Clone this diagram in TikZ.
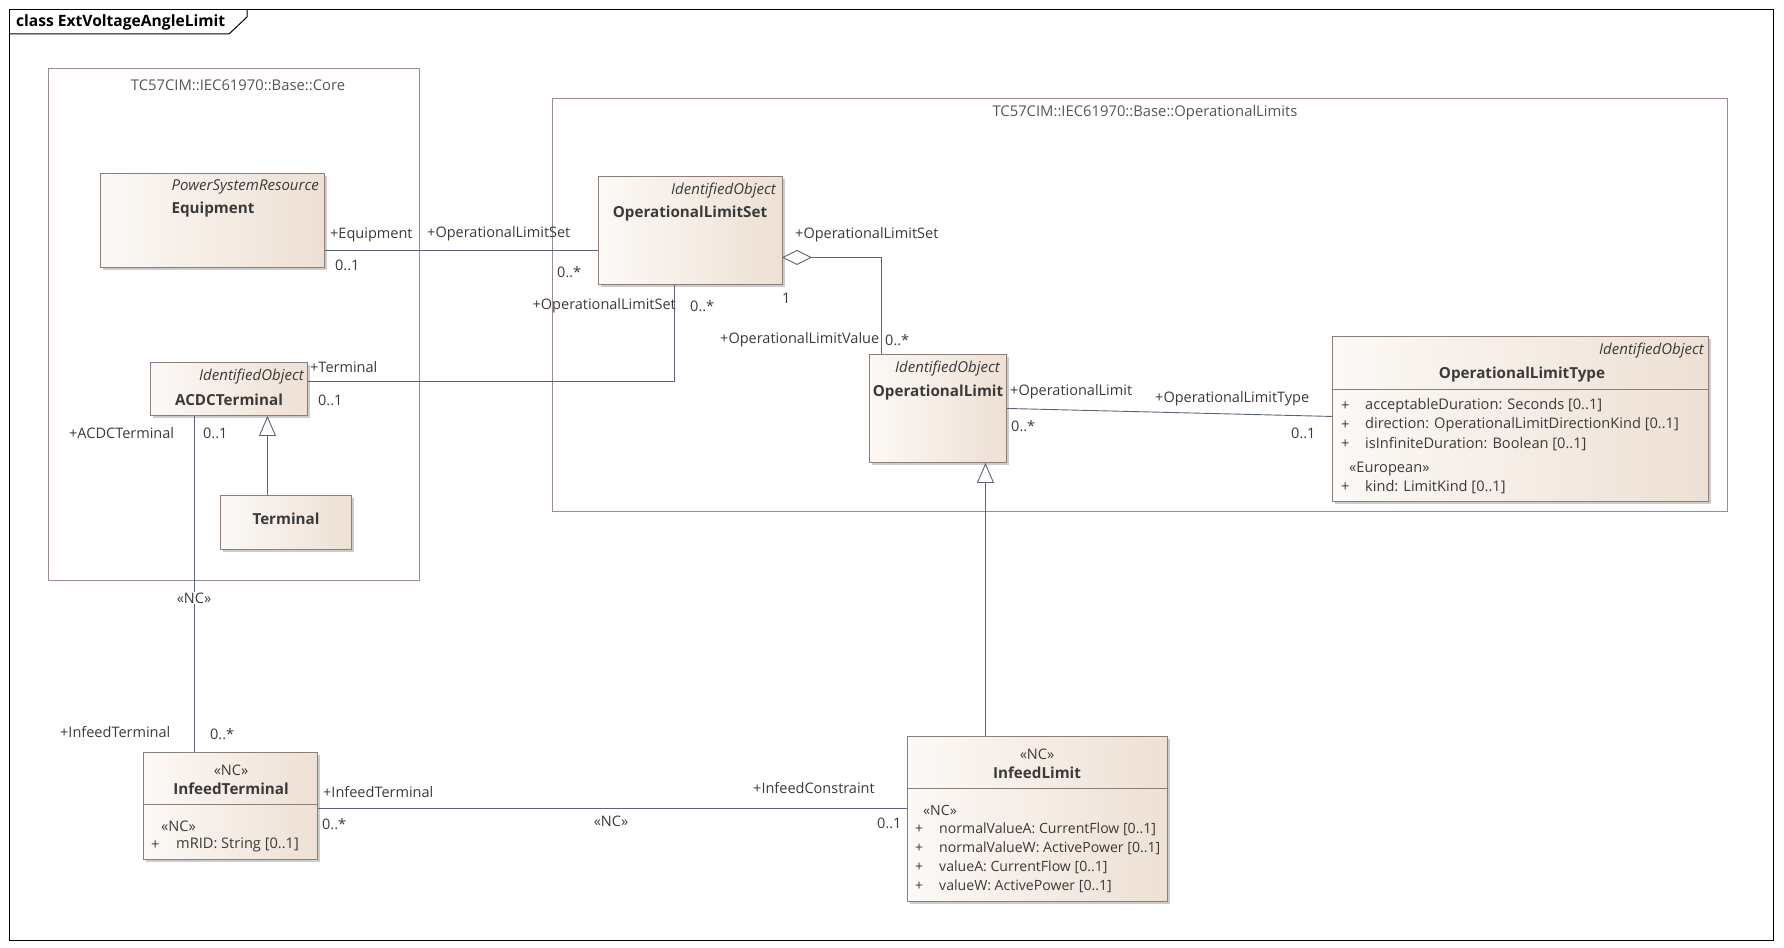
\documentclass[tikz,border=0pt]{standalone}
\usepackage{fontspec}
\setmainfont{Open Sans}
\usetikzlibrary{shadows,calc,arrows.meta}
\definecolor{boxL}{HTML}{FCF9F6}
\definecolor{boxR}{HTML}{EEE0D4}
\definecolor{boxB}{HTML}{8E7E7A}
\definecolor{pkgB}{HTML}{9C8C8C}
\definecolor{lineC}{HTML}{5A6478}
\definecolor{txt}{HTML}{3A3A3A}
\definecolor{ptxt}{HTML}{555555}
\tikzset{
  cls/.style={draw=boxB, line width=0.9pt, left color=boxL, right color=boxR,
    drop shadow={shadow xshift=3pt, shadow yshift=-3pt, fill=black, opacity=0.2},
    inner sep=0pt, anchor=north west},
  pkg/.style={draw=pkgB, line width=0.9pt, inner sep=0pt, anchor=north west},
  conn/.style={draw=lineC, line width=0.9pt},
  gen/.style={conn, -{Triangle[length=20pt,width=17pt,fill=white,line width=0.9pt]}},
  lbl/.style={text=txt, font=\fontsize{14.5}{17}\selectfont, inner sep=0pt, yshift=-2pt},
  nm/.style={text=txt, font=\fontsize{15.2}{18}\selectfont\bfseries, inner sep=0pt, yshift=-2pt},
  st/.style={text=txt, font=\fontsize{15}{18}\selectfont\itshape, inner sep=0pt, yshift=-2pt},
  attr/.style={text=txt, font=\fontsize{14.6}{17}\selectfont, inner sep=0pt, anchor=west, yshift=-2pt},
  attrn/.style={attr, font=\fontsize{14.1}{17}\selectfont},
  ptitle/.style={text=ptxt, font=\fontsize{14.8}{17}\selectfont, inner sep=0pt, yshift=-2pt},
}
\begin{document}
\begin{tikzpicture}[x=1pt,y=-1pt]
\useasboundingbox (0,0) rectangle (1784,947);
% frame
\node[draw=black, line width=1pt, inner sep=0pt, anchor=north west, minimum width=1764pt, minimum height=931pt] (frame) at (9,9) {};
\draw[black, line width=1pt] (frame.north west |- 0,34) -- (229,34) -- (247,17) -- (247,9);
\node[text=black, font=\fontsize{15.6}{18}\selectfont\bfseries, inner sep=0pt, anchor=west] (title) at (16,22.5) {class ExtVoltageAngleLimit};
% packages
\node[pkg, minimum width=371pt, minimum height=512pt] (core) at (48,68) {};
\node[ptitle] (coreT) at (238,83) {TC57CIM::IEC61970::Base::Core};
\node[pkg, minimum width=1175pt, minimum height=413pt] (opl) at (552,98) {};
\node[ptitle] (oplT) at (1145,111) {TC57CIM::IEC61970::Base::OperationalLimits};
% classes
\node[cls, minimum width=224pt, minimum height=94pt] (equip) at (100,173) {};
\node[st, anchor=east] (equipS) at (319,185) {PowerSystemResource};
\node[nm] (equipN) at (213,208) {Equipment};

\node[cls, minimum width=157pt, minimum height=53pt] (acdc) at (150,362) {};
\node[st, anchor=east] (acdcS) at (304,375) {IdentifiedObject};
\node[nm] (acdcN) at (229,398) {ACDCTerminal};

\node[cls, minimum width=131pt, minimum height=54pt] (term) at (220,495) {};
\node[nm] (termN) at (286,517) {Terminal};

\node[cls, minimum width=184pt, minimum height=108pt] (ols) at (598,176) {};
\node[st, anchor=east] (olsS) at (776,189) {IdentifiedObject};
\node[nm] (olsN) at (690,212) {OperationalLimitSet};

\node[cls, minimum width=137pt, minimum height=108pt] (oplim) at (869,354) {};
\node[st, anchor=east] (oplimS) at (1000,367) {IdentifiedObject};
\node[nm] (oplimN) at (938,391) {OperationalLimit};

\node[cls, minimum width=376pt, minimum height=165pt] (oltype) at (1332,336) {};
\node[st, anchor=east] (oltypeS) at (1704,349) {IdentifiedObject};
\node[nm] (oltypeN) at (1522,373) {OperationalLimitType};
\draw[draw=boxB, line width=0.9pt] (oltype.west |- 0,389) -- (oltype.east |- 0,389);
\node[attr] (a1p) at (1341,404) {+};
\node[attr] (a1) at (1365,404) {acceptableDuration: Seconds [0..1]};
\node[attr] (a2p) at (1341,423) {+};
\node[attr] (a2) at (1365,423) {direction: OperationalLimitDirectionKind [0..1]};
\node[attr] (a3p) at (1341,442) {+};
\node[attr] (a3) at (1365,442) {isInfiniteDuration: Boolean [0..1]};
\node[attr] (a4s) at (1349,467) {«European»};
\node[attr] (a4p) at (1341,485) {+};
\node[attr] (a4) at (1365,485) {kind: LimitKind [0..1]};

\node[cls, minimum width=174pt, minimum height=107pt] (itrm) at (143,752) {};
\node[lbl] (itrmS) at (231,768) {«NC»};
\node[nm] (itrmN) at (231,787) {InfeedTerminal};
\draw[draw=boxB, line width=0.9pt] (itrm.west |- 0,804) -- (itrm.east |- 0,804);
\node[attr] (b0) at (161,824) {«NC»};
\node[attr] (b1p) at (151,843) {+};
\node[attr] (b1) at (176,843) {mRID: String [0..1]};

\node[cls, minimum width=260pt, minimum height=165pt] (inlim) at (907,736) {};
\node[lbl] (inlimS) at (1037,752) {«NC»};
\node[nm] (inlimN) at (1037,771) {InfeedLimit};
\draw[draw=boxB, line width=0.9pt] (inlim.west |- 0,788) -- (inlim.east |- 0,788);
\node[attrn] (c0) at (923,808) {«NC»};
\node[attrn] (c1p) at (915,827) {+};
\node[attrn] (c1) at (939,827) {normalValueA: CurrentFlow [0..1]};
\node[attrn] (c2p) at (915,846) {+};
\node[attrn] (c2) at (939,846) {normalValueW: ActivePower [0..1]};
\node[attrn] (c3p) at (915,865) {+};
\node[attrn] (c3) at (939,865) {valueA: CurrentFlow [0..1]};
\node[attrn] (c4p) at (915,884) {+};
\node[attrn] (c4) at (939,884) {valueW: ActivePower [0..1]};

% connectors
\draw[conn] ([yshift=-30pt]equip.east) -- ([yshift=-30pt]equip.east -| ols.west);
\draw[conn] ([yshift=7.5pt]acdc.east) -| ([xshift=-16pt]ols.south);
\draw[conn] ([yshift=-27pt,xshift=28pt]ols.east) -| ([xshift=-56.5pt]oplim.north);
\draw[conn, fill=white] ([yshift=-27pt]ols.east) -- ++(14,-7) -- ++(14,7) -- ++(-14,7) -- cycle;
\draw[conn] (oplim.east) -- ([yshift=2.5pt]oltype.west);
\draw[gen] ([xshift=-52pt]inlim.north) -- ([xshift=-52pt]inlim.north |- oplim.south);
\draw[gen] ([xshift=-18.5pt]term.north) -- ([xshift=-18.5pt]term.north |- acdc.south);
\draw[conn] ([xshift=-34.5pt]acdc.south) -- ([xshift=-34.5pt]acdc.south |- itrm.north);
\draw[conn] ([yshift=-2.5pt]itrm.east) -- ([yshift=-2.5pt]itrm.east -| inlim.west);

% role labels
\node[lbl, anchor=west] (l1) at (330,233) {+Equipment};
\node[lbl, anchor=west] (l2) at (335,263) {0..1};
\node[lbl, anchor=west] (l3) at (427,232) {+OperationalLimitSet};
\node[lbl, anchor=west] (l4) at (557,270) {0..*};
\node[lbl, anchor=west] (l5) at (310,365) {+Terminal};
\node[lbl, anchor=west] (l6) at (318,398) {0..1};
\node[lbl, anchor=east] (l7) at (676,304) {+OperationalLimitSet};
\node[lbl, anchor=west] (l8) at (690,304) {0..*};
\node[lbl, anchor=west] (l9) at (795,233) {+OperationalLimitSet};
\node[lbl, anchor=west] (l10) at (782,296) {1};
\node[lbl, anchor=west] (l11) at (720,338) {+OperationalLimitValue};
\node[lbl, anchor=west] (l12) at (885,338) {0..*};
\node[lbl, anchor=west] (l13) at (1010,390) {+OperationalLimit};
\node[lbl, anchor=west] (l14) at (1011,424) {0..*};
\node[lbl, anchor=west] (l15) at (1155,397) {+OperationalLimitType};
\node[lbl, anchor=west] (l16) at (1291,431) {0..1};
\node[lbl, anchor=west] (l17) at (69,431) {+ACDCTerminal};
\node[lbl, anchor=west] (l18) at (203,431) {0..1};
\node[lbl, fill=white, inner sep=1pt] (l19) at (194,596) {«NC»};
\node[lbl, anchor=west] (l20) at (60,730) {+InfeedTerminal};
\node[lbl, anchor=west] (l21) at (210,732) {0..*};
\node[lbl, anchor=west] (l22) at (323,790) {+InfeedTerminal};
\node[lbl, anchor=west] (l23) at (322,822) {0..*};
\node[lbl] (l24) at (611,819) {«NC»};
\node[lbl, anchor=west] (l25) at (753,786) {+InfeedConstraint};
\node[lbl, anchor=west] (l26) at (877,821) {0..1};
\end{tikzpicture}
\end{document}
